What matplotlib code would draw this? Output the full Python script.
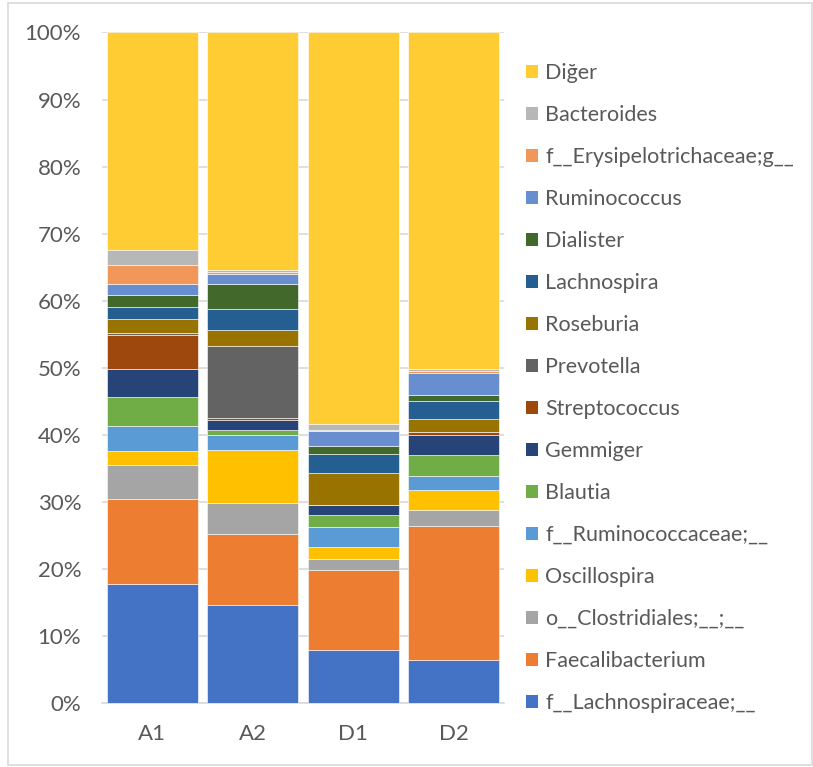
import numpy as np
import matplotlib
matplotlib.use('Agg')
import matplotlib.pyplot as plt
from matplotlib.patches import Rectangle, Patch

plt.rcParams['font.family'] = ['Lato', 'DejaVu Sans']

samples = ['A1', 'A2', 'D1', 'D2']

# series from bottom of the stack to the top (percent)
taxa = [
    'f__Lachnospiraceae;__', 'Faecalibacterium', 'o__Clostridiales;__;__',
    'Oscillospira', 'f__Ruminococcaceae;__', 'Blautia', 'Gemmiger',
    'Streptococcus', 'Prevotella', 'Roseburia', 'Lachnospira', 'Dialister',
    'Ruminococcus', 'f__Erysipelotrichaceae;g__', 'Bacteroides', 'Diğer',
]
a1 = [17.75, 12.65, 5.1, 2.1, 3.7, 4.4, 4.1, 5.1, 0.25, 2.1, 1.8, 1.8, 1.7, 2.8, 2.3, 32.35]
a2 = [14.7, 10.5, 4.6, 8.0, 2.2, 0.7, 1.6, 0.3, 10.7, 2.3, 3.2, 3.7, 1.5, 0.3, 0.3, 35.4]
d1 = [7.9, 12.0, 1.6, 1.8, 3.0, 1.8, 1.4, 0.05, 0.05, 4.8, 2.8, 1.2, 2.2, 0.2, 0.9, 58.3]
d2 = [6.5, 20.0, 2.4, 2.9, 2.1, 3.1, 3.0, 0.4, 0.05, 1.95, 2.7, 0.8, 3.3, 0.3, 0.3, 50.2]

colors = [
    '#4472C4', '#ED7D31', '#A5A5A5', '#FFC000', '#5B9BD5', '#70AD47',
    '#264478', '#9E480E', '#636363', '#997300', '#255E91', '#43682B',
    '#698ED0', '#F1975A', '#B7B7B7', '#FFCD33',
]

values = np.array([a1, a2, d1, d2]).T          # shape (taxa, samples)
values = values / values.sum(axis=0) * 100      # 100% stacked

fig = plt.figure(figsize=(8.13, 7.67), dpi=100)
ax = fig.add_axes([0.1255, 0.0829, 0.4945, 0.8748])

x = np.arange(len(samples))
bottom = np.zeros(len(samples))
for name, vals, col in zip(taxa, values, colors):
    ax.bar(x, vals, bottom=bottom, width=0.905, color=col,
           edgecolor='white', linewidth=0.4, label=name, zorder=3)
    bottom += vals

ax.set_xlim(-0.5, len(samples) - 0.5)
ax.set_ylim(0, 100)
ax.set_yticks(np.arange(0, 101, 10))
ax.set_yticklabels([f'{v}%' for v in range(0, 101, 10)])
ax.set_xticks(x)
ax.set_xticklabels(samples)
ax.tick_params(axis='y', length=0, pad=15, labelsize=16, labelcolor='#595959')
ax.tick_params(axis='x', length=0, pad=15, labelsize=16, labelcolor='#595959')
ax.grid(axis='y', color='#d9d9d9', linewidth=1.2, zorder=0)
ax.set_axisbelow(True)
for side in ['top', 'right', 'left']:
    ax.spines[side].set_visible(False)
ax.spines['bottom'].set_color('#d9d9d9')
ax.spines['bottom'].set_linewidth(1.2)

handles = [Patch(facecolor=c, edgecolor='none') for c in colors][::-1]
fig.legend(handles, taxa[::-1], loc='upper left',
           bbox_to_anchor=(0.637, 0.9285), frameon=False, fontsize=15.5,
           labelcolor='#595959', handlelength=0.53, handleheight=0.53,
           handletextpad=0.33, labelspacing=1.02, borderaxespad=0)

# light outer border of the chart area
fig.patches.append(Rectangle((0.0098, 0.0026), 0.989, 0.9935, transform=fig.transFigure,
                             fill=False, edgecolor='#d9d9d9', linewidth=1.2))

fig.savefig('out.png', dpi=100)
